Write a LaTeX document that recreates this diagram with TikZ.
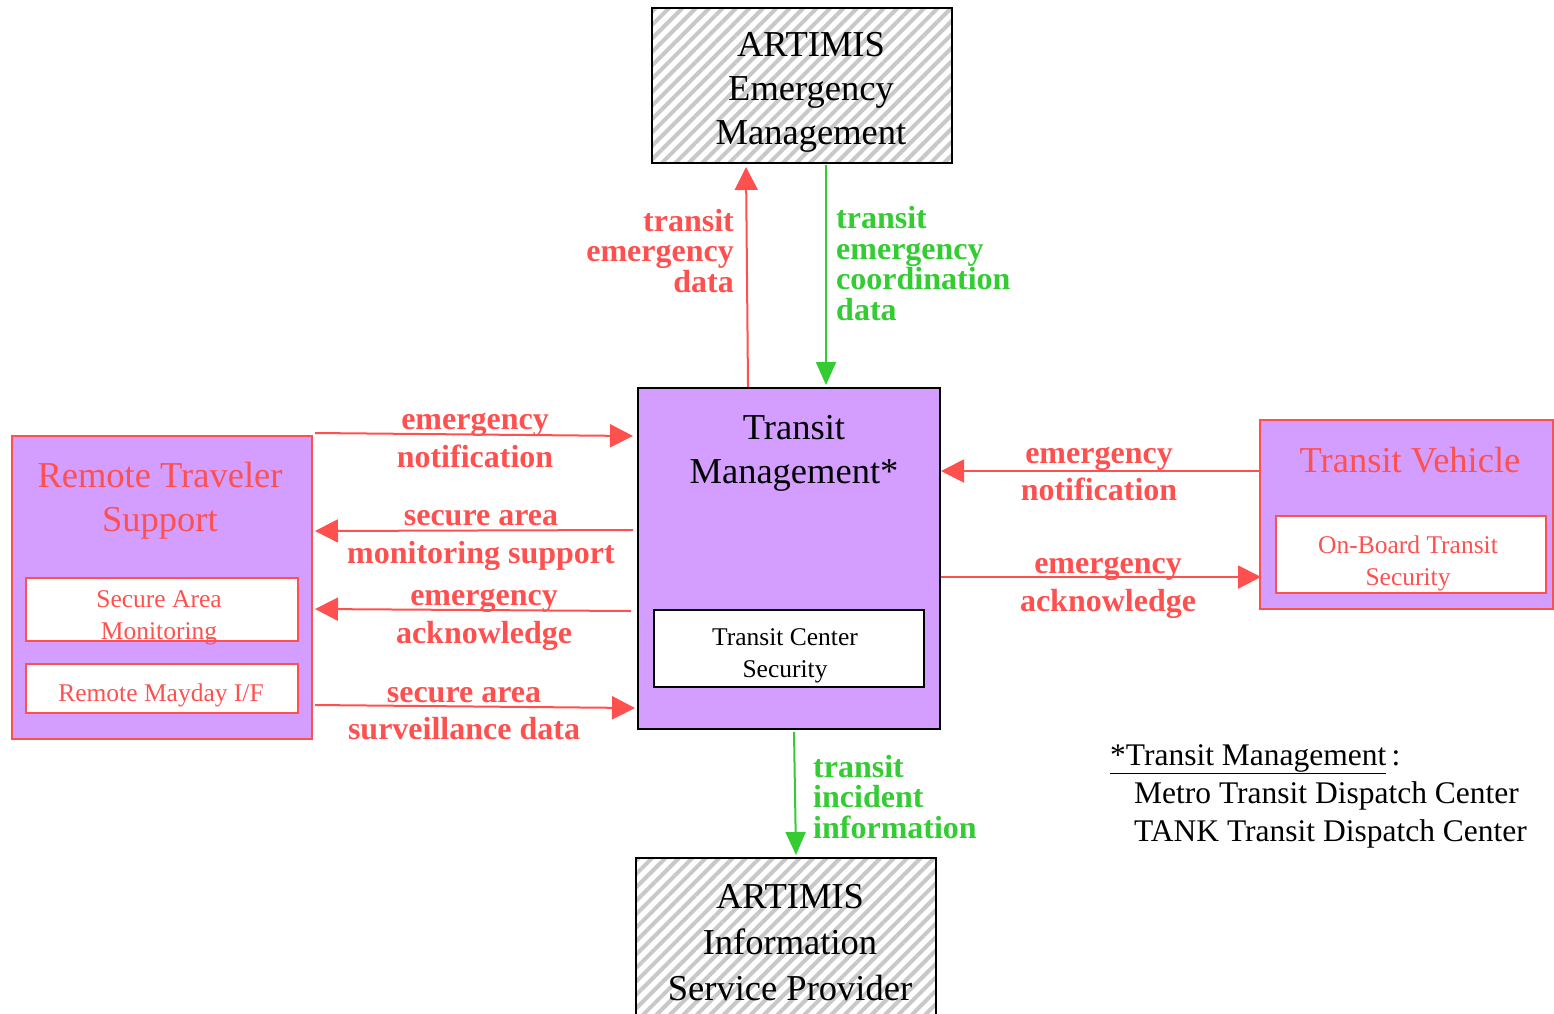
\documentclass[tikz,border=0pt]{standalone}
\usepackage{fontspec}
\setmainfont{Liberation Serif}
\usetikzlibrary{arrows.meta,patterns.meta,calc}
\definecolor{tmpurple}{RGB}{211,158,255}
\definecolor{tmred}{RGB}{255,80,80}
\definecolor{tmgreen}{RGB}{51,204,51}
\definecolor{hatchgray}{RGB}{200,200,200}
\newcommand{\bigtxt}{\fontsize{36.5}{44}\selectfont}
\newcommand{\smalltxt}{\fontsize{25.5}{32}\selectfont}
\newcommand{\lbltxt}{\fontsize{32}{37.5}\selectfont\bfseries}
\newcommand{\glbltxt}{\fontsize{32}{30.5}\selectfont\bfseries}
\newcommand{\legtxt}{\fontsize{31.5}{38}\selectfont}
\begin{document}
\begin{tikzpicture}[x=1pt,y=-1pt,
  hatchbox/.style={rectangle,draw=black,line width=2pt,inner sep=0pt,
    pattern={Lines[angle=45,distance=9.5pt,line width=4pt]},pattern color=hatchgray},
  purplebox/.style={rectangle,fill=tmpurple,line width=2pt,inner sep=0pt},
  whitebox/.style={rectangle,fill=white,line width=2pt,inner sep=0pt},
  txt/.style={inner sep=0pt,align=center},
  redarrow/.style={draw=tmred,line width=2pt,-{Triangle[length=23pt,width=23pt]}},
  greenarrow/.style={draw=tmgreen,line width=2pt,-{Triangle[length=23pt,width=20pt]}},
  redlbl/.style={inner sep=0pt,text=tmred,font=\lbltxt},
  greenlbl/.style={inner sep=0pt,text=tmgreen,font=\glbltxt,align=left}
]
\useasboundingbox (0,0) rectangle (1554,1013);
\fill[white] (0,0) rectangle (1554,1013);

% boxes
\node[hatchbox,minimum width=300pt,minimum height=155pt] (EM) at (802,85.5) {};
\node[hatchbox,minimum width=300pt,minimum height=164pt] (ISP) at (786,940) {};
\node[purplebox,draw=black,minimum width=302pt,minimum height=341pt] (TM) at (789,558.5) {};
\node[whitebox,draw=black,minimum width=270pt,minimum height=77pt] (TCS) at (789,648.5) {};
\node[purplebox,draw=tmred,minimum width=300pt,minimum height=303pt] (RTS) at (162,587.5) {};
\node[whitebox,draw=tmred,minimum width=272pt,minimum height=63pt] (SAM) at (162,609.5) {};
\node[whitebox,draw=tmred,minimum width=272pt,minimum height=49pt] (RMD) at (162,688.5) {};
\node[purplebox,draw=tmred,minimum width=293pt,minimum height=189pt] (TV) at (1406.5,514.5) {};
\node[whitebox,draw=tmred,minimum width=270pt,minimum height=77pt] (OBS) at (1411,554.5) {};

% box texts
\node[txt,font=\bigtxt] (EMt) at (811,92) {ARTIMIS\\Emergency\\Management};
\node[txt,font=\fontsize{36.5}{46}\selectfont] (ISPt) at (790,942.5) {ARTIMIS\\Information\\Service Provider};
\node[txt,font=\bigtxt] (TMt) at (794,453.5) {Transit\\Management*};
\node[txt,font=\smalltxt] (TCSt) at (785,656) {Transit Center\\Security};
\node[txt,font=\bigtxt,text=tmred] (RTSt) at (160,501) {Remote Traveler\\Support};
\node[txt,font=\smalltxt,text=tmred] (SAMt) at (159,618) {Secure Area\\Monitoring};
\node[txt,font=\smalltxt,text=tmred] (RMDt) at (161,695) {Remote Mayday I/F};
\node[txt,font=\bigtxt,text=tmred] (TVt) at (1410,460) {Transit Vehicle};
\node[txt,font=\smalltxt,text=tmred] (OBSt) at (1408,563) {On-Board Transit\\Security};

% connectors
\draw[redarrow] ($(TM.north)+(-41,0)$) -- ($(EM.south)+(-56,2)$);
\draw[greenarrow] ($(EM.south)+(24,0)$) -- ($(TM.north)+(37,-2)$);
\draw[redarrow] ($(RTS.north east)+(2,-2)$) -- ($(TM.west)+(-4,-122.5)$);
\draw[redarrow] ($(TM.west)+(-4,-28.5)$) -- ($(RTS.east)+(2,-56.5)$);
\draw[redarrow] ($(TM.west)+(-6,52.5)$) -- ($(RTS.east)+(2,21.5)$);
\draw[redarrow] ($(RTS.east)+(2,117.5)$) -- ($(TM.west)+(-2,149.5)$);
\draw[redarrow] ($(TV.west)+(0,-43.5)$) -- ($(TM.east)+(0,-87.5)$);
\draw[redarrow] ($(TM.east)+(0,18.5)$) -- ($(TV.west)+(2,62.5)$);
\draw[greenarrow] ($(TM.south)+(5,2)$) -- ($(ISP.north)+(10,-2)$);

% connector labels
\node[redlbl,font=\glbltxt,anchor=east,align=right] (l1) at (734,251) {transit\\emergency\\data};
\node[greenlbl,anchor=west] (l2) at (836,263.5) {transit\\emergency\\coordination\\data};
\node[redlbl,align=center] (l3) at (475,440.5) {emergency\\notification};
\node[redlbl,align=center] (l4) at (481,540.5) {secure area\\monitoring support};
\node[redlbl,align=center] (l5) at (484,620) {emergency\\acknowledge};
\node[redlbl,align=center] (l6) at (464,713.5) {secure area\\surveillance data};
\node[redlbl,align=center] (l7) at (1099,474) {emergency\\notification};
\node[redlbl,align=center] (l8) at (1108,588) {emergency\\acknowledge};
\node[greenlbl,anchor=west] (l9) at (813,797) {transit\\incident\\information};

% legend
\node[inner sep=0pt,anchor=west,align=left,font=\legtxt] (leg) at (1110,796)
  {\underline{*Transit Management}\,:\\\hspace*{24pt}Metro Transit Dispatch Center\\\hspace*{24pt}TANK Transit Dispatch Center};
\end{tikzpicture}
\end{document}
